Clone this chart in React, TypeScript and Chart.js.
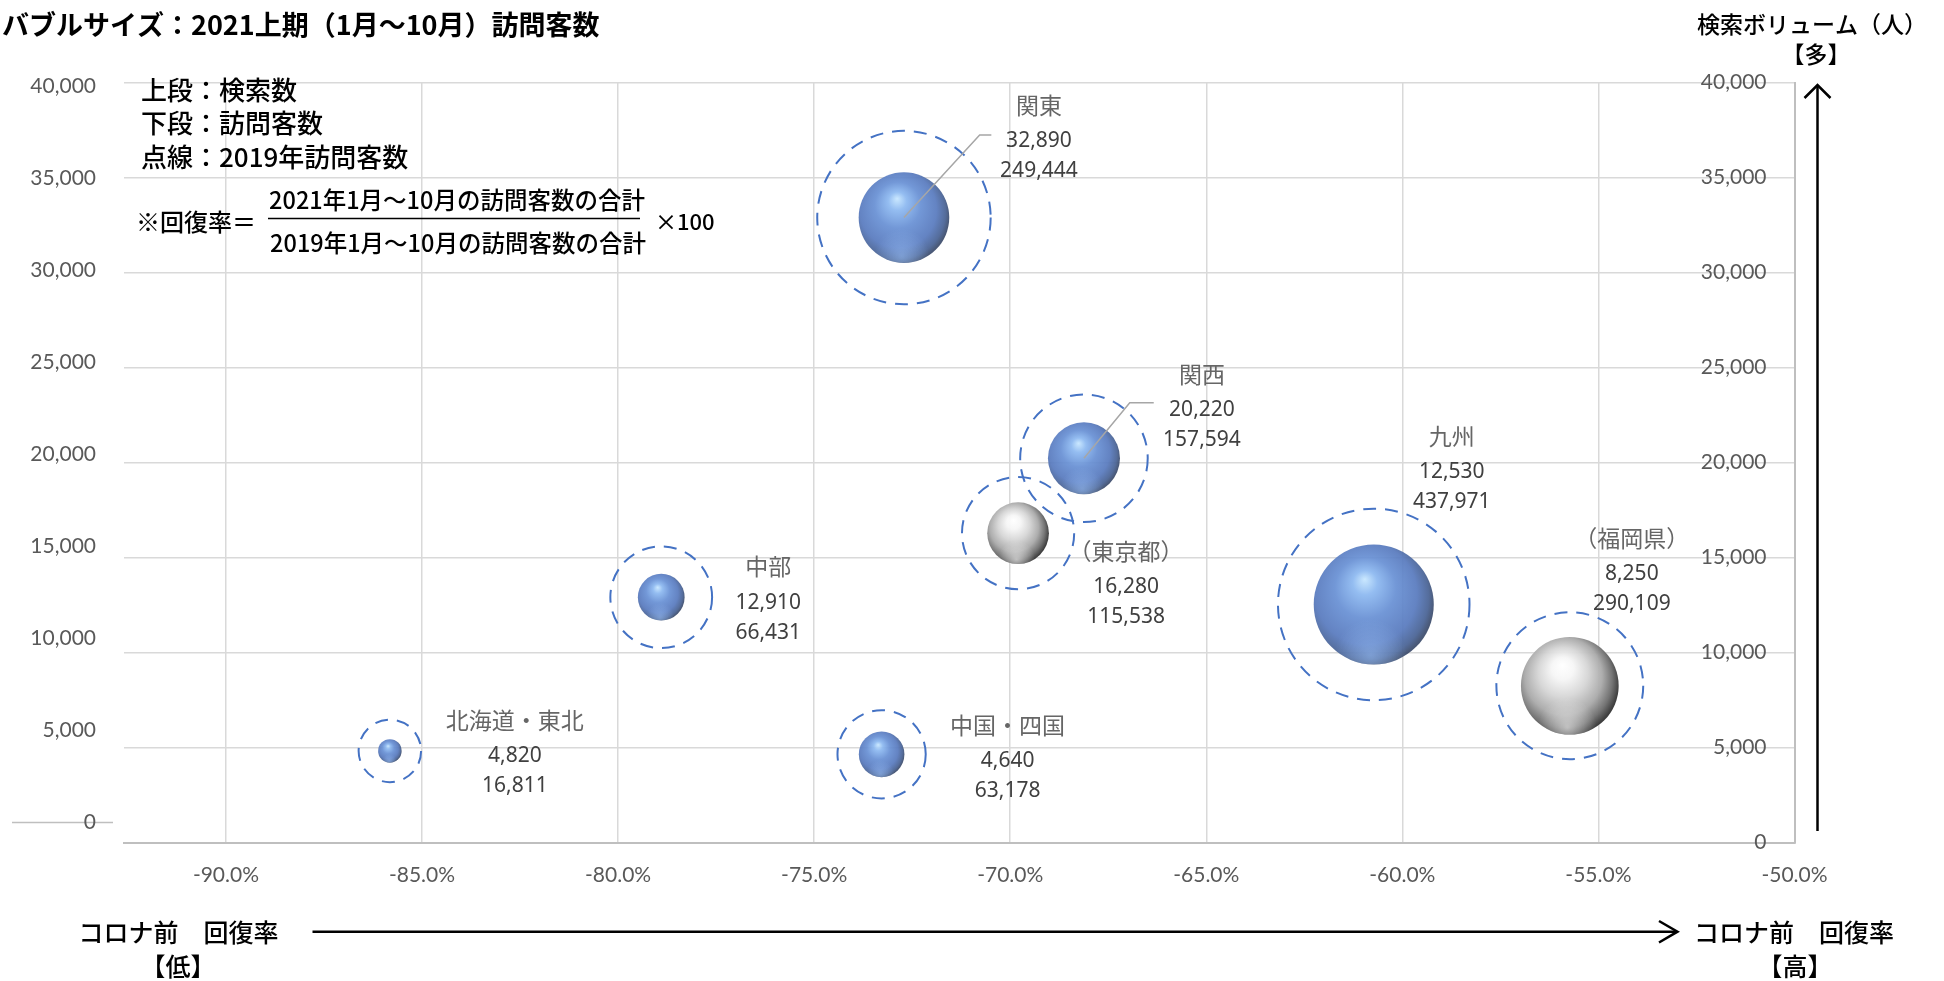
import React, { useEffect, useRef } from 'react';
import { Chart, registerables } from 'chart.js';

Chart.register(...registerables);

// ---------------- data ----------------
const regionNames = ['北海道・東北', '中部', '中国・四国', '関東', '（東京都）', '関西', '九州', '（福岡県）'];
const recoveryRates = [-85.82, -78.9, -73.28, -72.71, -69.8, -68.12, -60.73, -55.73]; // x (%)
const searchCounts = [4820, 12910, 4640, 32890, 16280, 20220, 12530, 8250]; // y
const visitors2021 = [16811, 66431, 63178, 249444, 115538, 157594, 437971, 290109]; // bubble size
const visitors2019 = [118600, 314700, 236600, 914300, 382600, 494300, 1115000, 655300]; // dashed circles
const isPrefecture = [false, false, false, false, true, false, false, true];

const xTickValues = [-90, -85, -80, -75, -70, -65, -60, -55, -50];
const yTickValues = [0, 5000, 10000, 15000, 20000, 25000, 30000, 35000, 40000];

// ---------------- styling ----------------
const RADIUS_PER_SQRT = 0.0907;
const sizeToRadius = (v: number) => RADIUS_PER_SQRT * Math.sqrt(v);

// label anchor (name line) offsets from bubble centre, px
const labelOffsets: [number, number][] = [
  [125, -31], [107, -30.6], [126, -29.3], [135, -112.6],
  [108, 18], [118, -84], [78, -168.4], [62, -147.5],
];
const leaderLines: (number[] | null)[] = [
  null, null, null, [75.7, -82.6, 87.4, -82.6], null, [45.8, -55.6, 69.8, -55.6], null, null,
];

const CJK = '"Noto Sans CJK JP", "Noto Sans CJK SC", sans-serif';
const TICK_FONT = 'Lato';
const TICK_COLOR = '#595959';
const GRID_COLOR = '#d9d9d9';
const AXIS_COLOR = '#bfbfbf';

const fmt = (v: number) => Number(v).toLocaleString('en-US');

function sphereGradient(ctx: CanvasRenderingContext2D, cx: number, cy: number, r: number, silver: boolean) {
  const g = ctx.createRadialGradient(cx - 0.15 * r, cy - 0.42 * r, 0, cx - 0.12 * r, cy - 0.1 * r, r * 1.13);
  if (silver) {
    g.addColorStop(0, 'rgba(255,255,255,0.96)');
    g.addColorStop(0.2, 'rgba(246,246,246,0.96)');
    g.addColorStop(0.45, 'rgba(214,214,214,0.96)');
    g.addColorStop(0.7, 'rgba(170,170,170,0.96)');
    g.addColorStop(0.88, 'rgba(110,110,110,0.96)');
    g.addColorStop(1, 'rgba(55,55,55,0.96)');
  } else {
    g.addColorStop(0, 'rgba(198,230,255,0.93)');
    g.addColorStop(0.18, 'rgba(140,184,240,0.93)');
    g.addColorStop(0.45, 'rgba(104,144,212,0.93)');
    g.addColorStop(0.75, 'rgba(88,122,190,0.93)');
    g.addColorStop(0.92, 'rgba(72,98,148,0.93)');
    g.addColorStop(1, 'rgba(60,76,108,0.93)');
  }
  return g;
}

const decorPlugin = {
  id: 'decor',
  beforeDraw(chart: any) {
    const ctx = chart.ctx;
    const y0 = chart.scales.yLeft.getPixelForValue(0);
    ctx.save();
    ctx.strokeStyle = AXIS_COLOR;
    ctx.lineWidth = 1.5;
    ctx.beginPath();
    ctx.moveTo(12, y0);
    ctx.lineTo(113, y0);
    ctx.stroke();
    ctx.restore();
  },
  beforeDatasetDraw(chart: any, args: any) {
    const ctx = chart.ctx;
    if (args.index === 0) {
      ctx.save();
      ctx.setLineDash([13, 9]);
    }
    if (args.index === 1) {
      const meta = chart.getDatasetMeta(1);
      meta.data.forEach((el: any, i: number) => {
        const r = el.options && el.options.radius;
        if (!isFinite(el.x) || !isFinite(el.y) || !(r > 0)) return;
        try {
          el.options.backgroundColor = sphereGradient(ctx, el.x, el.y, r, isPrefecture[i]);
        } catch (e) {
          /* frozen options: keep resolved colour */
        }
      });
    }
  },
  afterDatasetDraw(chart: any, args: any) {
    const ctx = chart.ctx;
    if (args.index === 0) {
      ctx.restore();
      return;
    }
    if (args.index === 1) {
      const meta = chart.getDatasetMeta(1);
      meta.data.forEach((el: any, i: number) => {
        const r = el.options.radius;
        const { x, y } = el;
        if (!isFinite(x) || !isFinite(y) || !(r > 0)) return;
        ctx.save();
        ctx.beginPath();
        ctx.arc(x, y, r, 0, Math.PI * 2);
        ctx.clip();
        const g = ctx.createRadialGradient(x - 0.05 * r, y + 0.85 * r, 0, x - 0.05 * r, y + 0.85 * r, 0.6 * r);
        if (isPrefecture[i]) {
          g.addColorStop(0, 'rgba(255,255,255,0.55)');
          g.addColorStop(1, 'rgba(255,255,255,0)');
        } else {
          g.addColorStop(0, 'rgba(160,200,255,0.5)');
          g.addColorStop(1, 'rgba(160,200,255,0)');
        }
        ctx.fillStyle = g;
        ctx.fillRect(x - r, y - r, 2 * r, 2 * r);
        ctx.restore();
      });
    }
  },
  afterDatasetsDraw(chart: any) {
    const ctx = chart.ctx;
    const xs = chart.scales.x;
    const ys = chart.scales.y;
    ctx.save();
    regionNames.forEach((name, i) => {
      const cx = xs.getPixelForValue(recoveryRates[i]);
      const cy = ys.getPixelForValue(searchCounts[i]);
      const ll = leaderLines[i];
      if (ll) {
        ctx.strokeStyle = '#a6a6a6';
        ctx.lineWidth = 1.5;
        ctx.beginPath();
        ctx.moveTo(cx, cy);
        ctx.lineTo(cx + ll[0], cy + ll[1]);
        ctx.lineTo(cx + ll[2], cy + ll[3]);
        ctx.stroke();
      }
      const [dx, dy] = labelOffsets[i];
      const lx = cx + dx;
      const ly = cy + dy;
      ctx.textAlign = 'center';
      ctx.textBaseline = 'middle';
      ctx.fillStyle = '#666666';
      ctx.font = `23px ${CJK}`;
      ctx.fillText(name, lx, ly);
      ctx.fillStyle = '#404040';
      ctx.font = '21px "Noto Sans", sans-serif';
      ctx.fillText(fmt(searchCounts[i]), lx, ly + 36);
      ctx.fillText(fmt(visitors2021[i]), lx, ly + 66);
    });
    ctx.restore();
  },
  afterDraw(chart: any) {
    const ctx = chart.ctx;
    const area = chart.chartArea;
    const ys = chart.scales.y;
    ctx.save();
    // right axis tick labels (drawn inside the plot)
    ctx.font = `21px ${TICK_FONT}`;
    ctx.fillStyle = TICK_COLOR;
    ctx.textAlign = 'right';
    ctx.textBaseline = 'middle';
    ys.ticks.forEach((t: any) => {
      ctx.fillText(fmt(t.value), area.right - 28, ys.getPixelForValue(t.value));
    });

    ctx.fillStyle = '#000';
    // title
    ctx.textAlign = 'left';
    ctx.font = `bold 27px ${CJK}`;
    ctx.fillText('バブルサイズ：2021上期（1月～10月）訪問客数', 2, 25);

    // legend notes
    ctx.font = `500 26px ${CJK}`;
    ctx.fillText('上段：検索数', 141, 90);
    ctx.fillText('下段：訪問客数', 141, 123.5);
    ctx.fillText('点線：2019年訪問客数', 141, 157.5);

    // formula
    ctx.font = `500 24px ${CJK}`;
    ctx.fillText('※回復率＝', 136, 222);
    ctx.font = `500 23.5px ${CJK}`;
    ctx.textAlign = 'center';
    ctx.fillText('2021年1月～10月の訪問客数の合計', 457, 200);
    ctx.fillText('2019年1月～10月の訪問客数の合計', 458, 243);
    ctx.strokeStyle = '#000';
    ctx.lineWidth = 1.5;
    ctx.beginPath();
    ctx.moveTo(268, 218.5);
    ctx.lineTo(640, 218.5);
    ctx.stroke();
    ctx.textAlign = 'left';
    ctx.font = `500 22px ${CJK}`;
    ctx.fillText('×100', 655, 222);

    // right-top axis caption
    ctx.textAlign = 'center';
    ctx.font = `500 23px ${CJK}`;
    ctx.fillText('検索ボリューム（人）', 1812, 24);
    ctx.fillText('【多】', 1816, 54);

    // bottom captions
    ctx.font = `500 25px ${CJK}`;
    ctx.fillText('コロナ前　回復率', 178.5, 932);
    ctx.fillText('【低】', 178, 966);
    ctx.fillText('コロナ前　回復率', 1794, 932);
    ctx.fillText('【高】', 1795, 966);

    // arrows
    ctx.lineWidth = 2.5;
    ctx.lineCap = 'butt';
    ctx.beginPath();
    ctx.moveTo(1817.5, 831);
    ctx.lineTo(1817.5, 86);
    ctx.stroke();
    ctx.beginPath();
    ctx.moveTo(1804.5, 98);
    ctx.lineTo(1817.5, 85);
    ctx.lineTo(1830.5, 98);
    ctx.stroke();

    ctx.beginPath();
    ctx.moveTo(312.5, 931.7);
    ctx.lineTo(1676, 931.7);
    ctx.stroke();
    ctx.beginPath();
    ctx.moveTo(1659, 921);
    ctx.lineTo(1677.5, 931.7);
    ctx.lineTo(1659, 942.5);
    ctx.stroke();
    ctx.restore();
  },
};

export default function App() {
  const ref = useRef<HTMLCanvasElement>(null);
  useEffect(() => {
    const canvas = ref.current;
    if (!canvas) return;
    const setTicks = (values: number[]) => (s: any) => {
      s.ticks = values.map((v) => ({ value: v }));
    };
    const chart = new Chart(canvas, {
      type: 'bubble',
      data: {
        datasets: [
          {
            label: '2019年訪問客数',
            order: 2,
            xAxisID: 'x',
            yAxisID: 'y',
            data: recoveryRates.map((x, i) => ({ x, y: searchCounts[i], r: sizeToRadius(visitors2019[i]) })),
            backgroundColor: 'rgba(0,0,0,0)',
            borderColor: '#4472c4',
            borderWidth: 2,
          },
          {
            label: '2021訪問客数',
            order: 1,
            xAxisID: 'x',
            yAxisID: 'y',
            data: recoveryRates.map((x, i) => ({ x, y: searchCounts[i], r: sizeToRadius(visitors2021[i]) })),
            borderWidth: 0,
            backgroundColor: (c: any) => (isPrefecture[c.dataIndex] ? '#c8c8c8' : '#5b82c8'),
          },
        ],
      } as any,
      options: {
        responsive: false,
        animation: false,
        events: [],
        layout: { autoPadding: false, padding: { top: 82.5, left: 0, right: 139.5, bottom: 78.5 } },
        plugins: { legend: { display: false }, tooltip: { enabled: false } },
        scales: {
          x: {
            type: 'linear',
            position: 'bottom',
            min: -92.6,
            max: -50,
            afterBuildTicks: setTicks(xTickValues),
            afterFit: (s: any) => { s.height = 60; },
            grid: { color: GRID_COLOR, lineWidth: 1.5, drawTicks: false },
            border: { color: AXIS_COLOR, width: 2 },
            ticks: {
              padding: 20,
              color: TICK_COLOR,
              font: { family: TICK_FONT, size: 21 },
              callback: (v: any) => Number(v).toFixed(1) + '%',
            },
          },
          yLeft: {
            type: 'linear',
            position: 'left',
            min: -1086,
            max: 40190,
            afterBuildTicks: setTicks(yTickValues),
            afterFit: (s: any) => { s.width = 124; },
            grid: { display: false, drawTicks: false },
            border: { display: false },
            ticks: {
              padding: 28,
              color: TICK_COLOR,
              font: { family: TICK_FONT, size: 21 },
              callback: (v: any) => fmt(v),
            },
          },
          y: {
            type: 'linear',
            position: 'right',
            min: 0,
            max: 40000,
            afterBuildTicks: setTicks(yTickValues),
            afterFit: (s: any) => { s.width = 10; },
            grid: { color: GRID_COLOR, lineWidth: 1.5, drawTicks: false },
            border: { color: AXIS_COLOR, width: 2 },
            ticks: { display: false },
          },
        },
      } as any,
      plugins: [decorPlugin],
    });
    return () => chart.destroy();
  }, []);

  return (
    <div style={{ position: 'absolute', left: 0, top: 0, width: 1944, height: 981, background: '#ffffff' }}>
      <canvas ref={ref} width={1944} height={981} style={{ display: 'block', width: 1944, height: 981 }} />
    </div>
  );
}
